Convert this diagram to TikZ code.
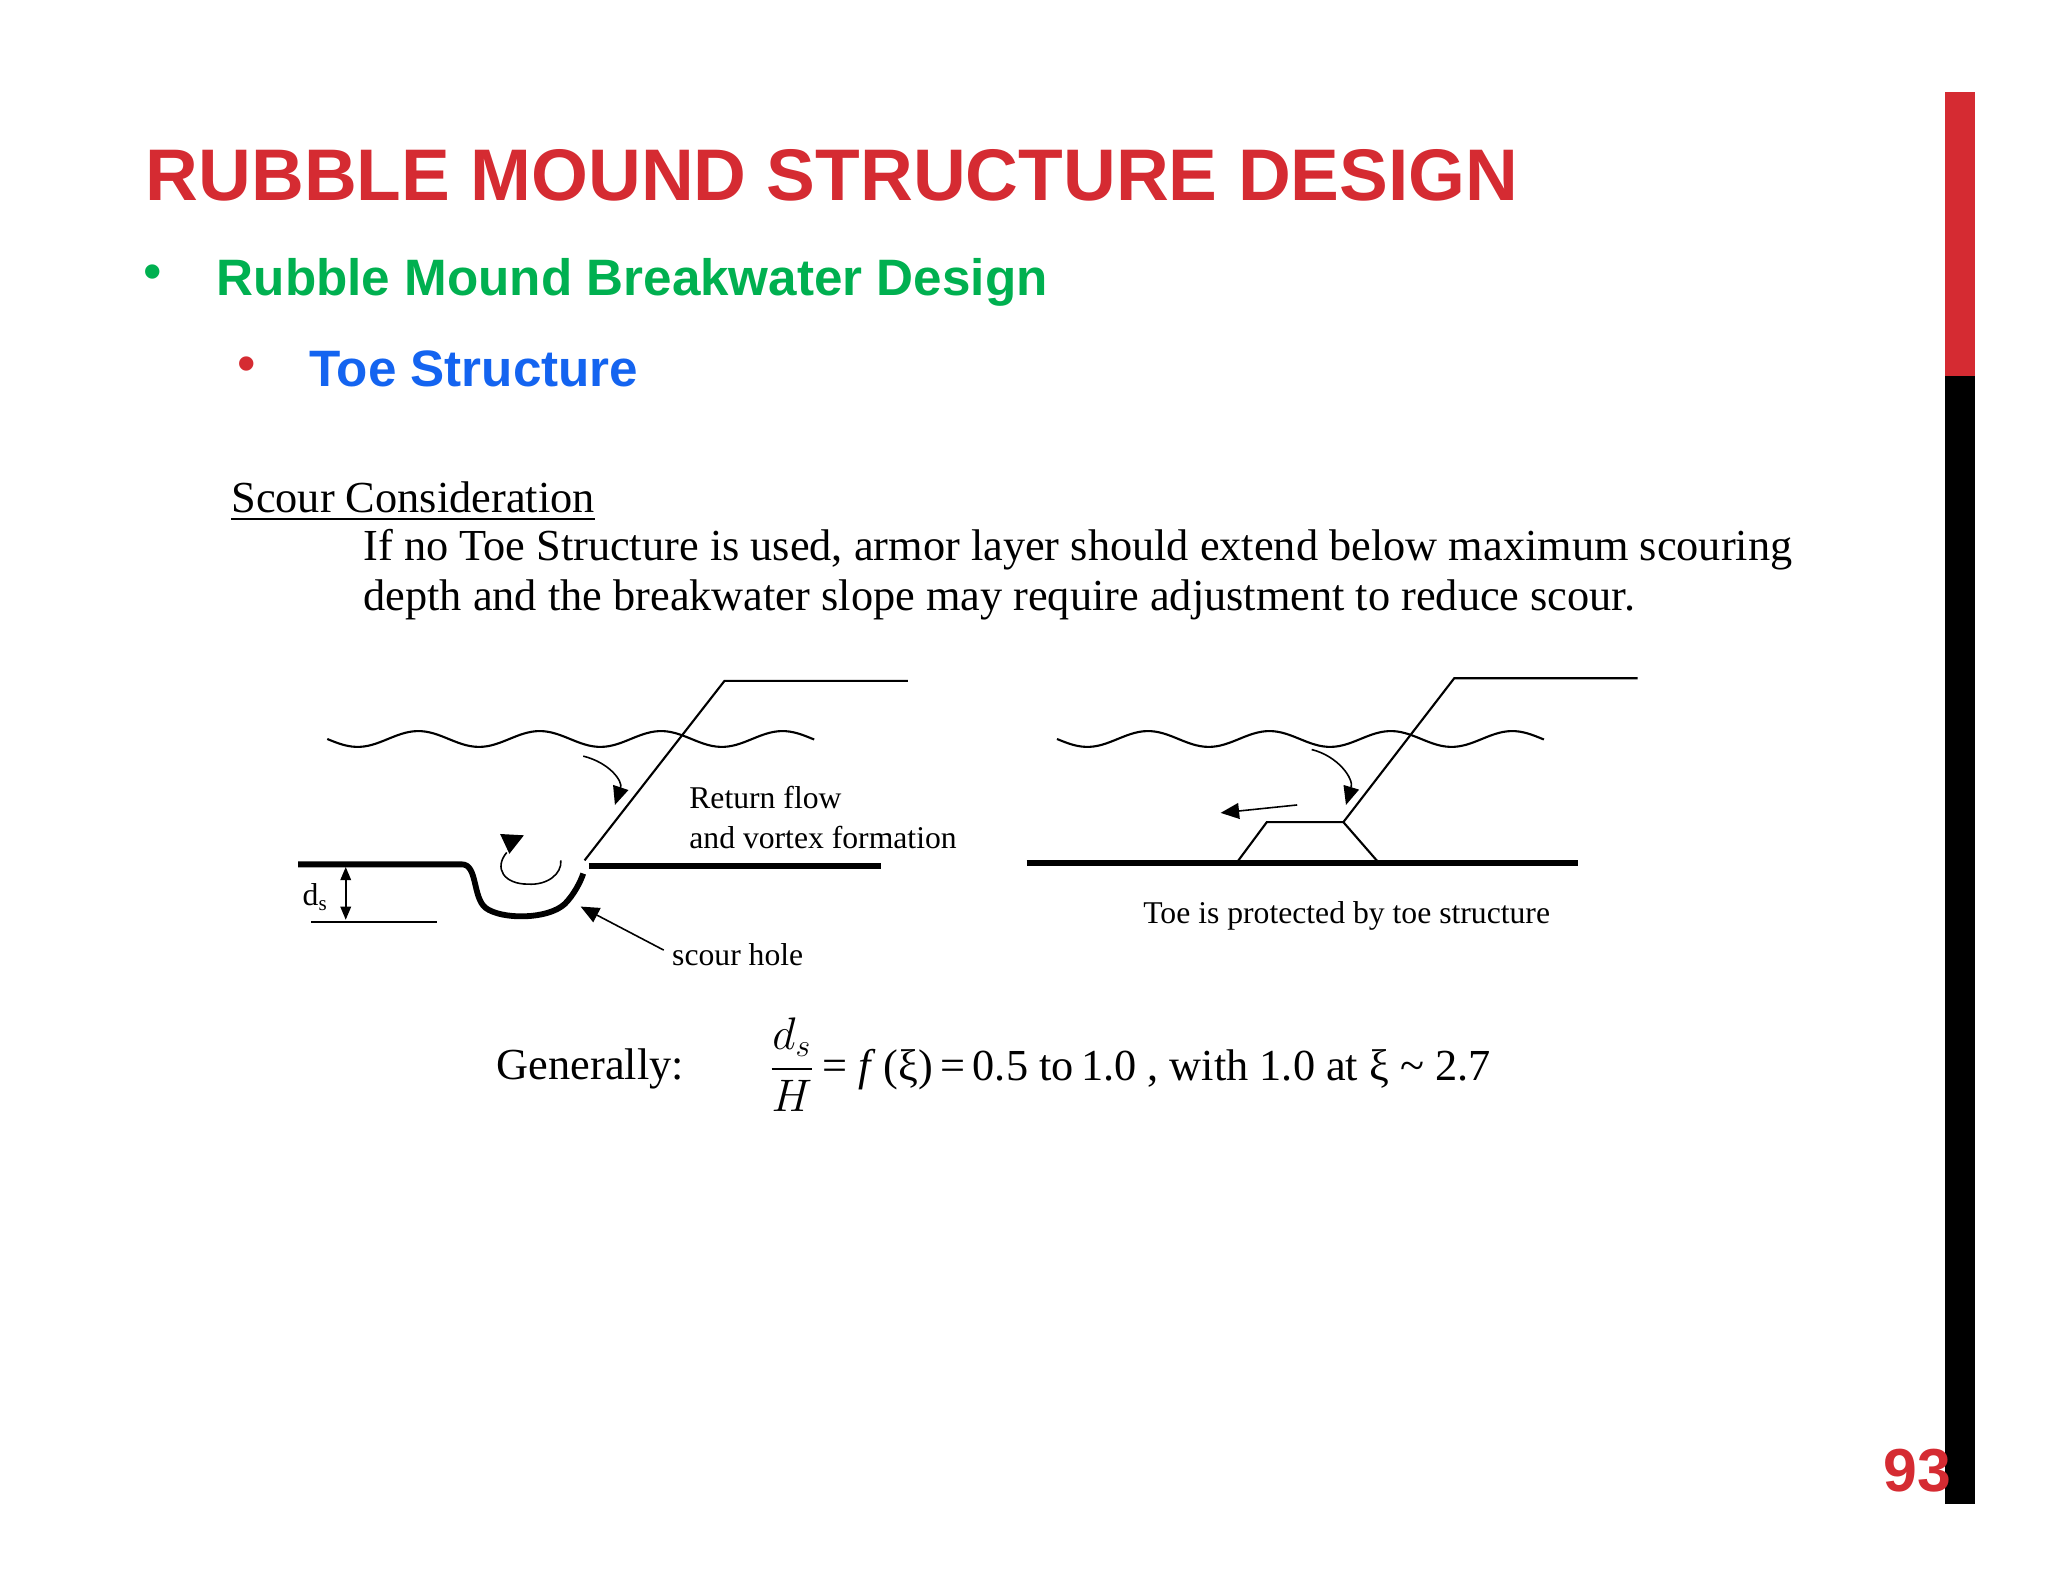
\documentclass[tikz,border=0pt]{standalone}
\usepackage{amsmath}
\usepackage{fontspec}
\setmainfont{Liberation Serif}
\newfontfamily\arial{Liberation Sans}
\usetikzlibrary{arrows.meta}
\definecolor{tred}{RGB}{213,43,50}
\definecolor{tgreen}{RGB}{0,176,80}
\definecolor{tblue}{RGB}{20,100,240}
\begin{document}
\begin{tikzpicture}[x=0.5pt,y=-0.5pt,
  thin line/.style={line width=0.8pt},
  thick line/.style={line width=2.2pt},
  arr/.style={line width=0.6pt,-{Triangle[length=7pt,width=6pt]}},
  lbl/.style={inner sep=0pt,anchor=base west,font=\fontsize{12}{14}\selectfont}]
\useasboundingbox (0,0) rectangle (1552,1200);
\fill[tred] (1474,70) rectangle (1497,285);
\fill[black] (1474,285) rectangle (1497,1140);
\node[inner sep=0pt,anchor=base west,text=tred,font=\arial\bfseries\fontsize{27.7}{30}\selectfont] (title) at (110,152) {RUBBLE MOUND STRUCTURE DESIGN};
\node[inner sep=0pt,text=tgreen,font=\arial\fontsize{20}{24}\selectfont] (b1) at (116,210) {•};
\node[inner sep=0pt,anchor=base west,text=tgreen,font=\arial\bfseries\fontsize{19.4}{24}\selectfont] (t1) at (164,224) {Rubble Mound Breakwater Design};
\node[inner sep=0pt,text=tred,font=\arial\fontsize{20}{24}\selectfont] (b2) at (187,280) {•};
\node[inner sep=0pt,anchor=base west,text=tblue,font=\arial\bfseries\fontsize{19.4}{24}\selectfont] (t2) at (234,293) {Toe Structure};
\node[inner sep=0pt,anchor=base east,text=tred,font=\arial\bfseries\fontsize{23}{26}\selectfont] (pg) at (1479,1130) {93};
\node[inner sep=0pt,anchor=base west,font=\fontsize{16.8}{19}\selectfont] (sc) at (175,388) {\underline{Scour Consideration}};
\node[inner sep=0pt,anchor=base west,font=\fontsize{16.8}{19}\selectfont] (p1) at (275,425) {If no Toe Structure is used, armor layer should extend below maximum scouring};
\node[inner sep=0pt,anchor=base west,font=\fontsize{16.8}{19}\selectfont] (p2) at (275,463) {depth and the breakwater slope may require adjustment to reduce scour.};
% left diagram
\draw[thin line] plot[domain=248:617,samples=120,smooth] (\x,{560+6*sin(3.913*(\x-248))});
\coordinate (ls0) at (443,652); \coordinate (ls1) at (549,516); \coordinate (ls2) at (688,516);
\draw[thin line] (ls0)--(ls1)--(ls2);
\draw[thick line] (226,655)--(350,655) .. controls (362,655) and (358,680) .. (368,688) .. controls (380,697) and (415,697) .. (428,685) .. controls (435,678) and (440,668) .. (442,662);
\draw[thick line] (446,656)--(668,656);
\draw[thin line] (236,699)--(331,699);
\coordinate (dA) at (262,657); \coordinate (dB) at (262,697);
\draw[line width=0.7pt,{Triangle[length=5pt,width=4pt]}-{Triangle[length=5pt,width=4pt]}] (dA)--(dB);
\node[lbl] (ds) at (229,686) {d\textsubscript{s}};
\coordinate (rf0) at (442,573); \coordinate (rf1) at (466,610);
\draw[arr] (rf0) .. controls (462,578) and (472,592) .. (rf1);
\draw[line width=0.6pt] (384,646) .. controls (374,658) and (382,670) .. (400,670) .. controls (415,671) and (426,662) .. (425,652);
\fill (379,632) -- (397,633) -- (386,647) -- cycle;
\node[lbl] (rt1) at (522,613) {Return flow};
\node[lbl] (rt2) at (522,643) {and vortex formation};
\node[lbl] (sh) at (509,732) {scour hole};
\coordinate (sh0) at (503,720); \coordinate (sh1) at (440,687);
\draw[arr] (sh0)--(sh1);
% right diagram
\draw[thin line] plot[domain=801:1170,samples=120,smooth] (\x,{560+6*sin(3.913*(\x-801))});
\draw[thin line] (1018,623)--(1102,514)--(1241,514);
\draw[thick line] (778,654)--(1196,654);
\draw[thin line] (937,654)--(960,623)--(1018,623)--(1045,654);
\coordinate (ra0) at (994,568); \coordinate (ra1) at (1020,610);
\draw[arr] (ra0) .. controls (1014,573) and (1026,590) .. (ra1);
\coordinate (rb0) at (983,610); \coordinate (rb1) at (925,616);
\draw[arr] (rb0)--(rb1);
\node[lbl] (toe) at (866,700) {Toe is protected by toe structure};
% formula
\node[inner sep=0pt,anchor=base west,font=\fontsize{16.8}{19}\selectfont] (gen) at (376,818) {Generally:};
\node[inner sep=0pt,anchor=west,font=\fontsize{16.8}{19}\selectfont] (eq) at (582,807) {$\dfrac{d_s}{H}$\,= \textit{f}\,(ξ)\,=\,0.5 to\,1.0 , with 1.0 at ξ \char"007E{} 2.7};
\end{tikzpicture}
\end{document}
